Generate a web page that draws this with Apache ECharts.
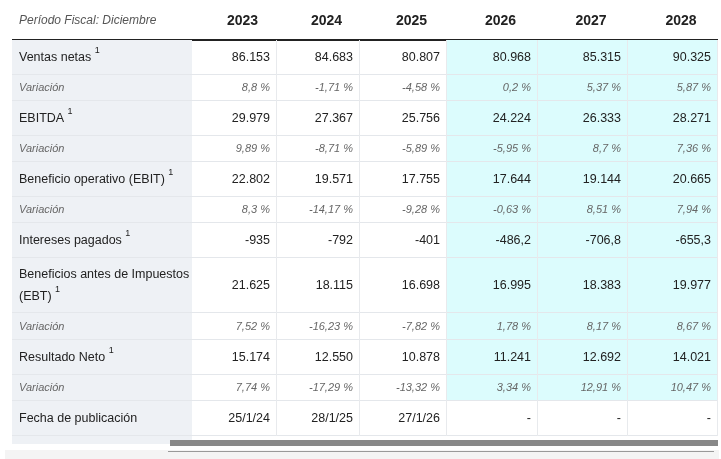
<!DOCTYPE html>
<html>
<head>
<meta charset="utf-8">
<title>Período Fiscal</title>
<script src="https://cdn.jsdelivr.net/npm/echarts@6/dist/echarts.min.js"></script>
</head>
<body style="margin:0;background:#fff">
<div id="container" style="width:721px;height:459px"></div>
<script>
// datos
var years = ['2023', '2024', '2025', '2026', '2027', '2028'];
var rowLabels = ['Ventas netas', 'Variación', 'EBITDA', 'Variación', 'Beneficio operativo (EBIT)', 'Variación',
  'Intereses pagados', 'Beneficios antes de Impuestos\n(EBT)', 'Variación', 'Resultado Neto', 'Variación', 'Fecha de publicación'];
var rowNote = [true, false, true, false, true, false, true, true, false, true, false, false];
var rowIsVar = [false, true, false, true, false, true, false, false, true, false, true, false];
var ventas = ['86.153', '84.683', '80.807', '80.968', '85.315', '90.325'];
var ventasVar = ['8,8 %', '-1,71 %', '-4,58 %', '0,2 %', '5,37 %', '5,87 %'];
var ebitda = ['29.979', '27.367', '25.756', '24.224', '26.333', '28.271'];
var ebitdaVar = ['9,89 %', '-8,71 %', '-5,89 %', '-5,95 %', '8,7 %', '7,36 %'];
var ebit = ['22.802', '19.571', '17.755', '17.644', '19.144', '20.665'];
var ebitVar = ['8,3 %', '-14,17 %', '-9,28 %', '-0,63 %', '8,51 %', '7,94 %'];
var intereses = ['-935', '-792', '-401', '-486,2', '-706,8', '-655,3'];
var ebt = ['21.625', '18.115', '16.698', '16.995', '18.383', '19.977'];
var ebtVar = ['7,52 %', '-16,23 %', '-7,82 %', '1,78 %', '8,17 %', '8,67 %'];
var neto = ['15.174', '12.550', '10.878', '11.241', '12.692', '14.021'];
var netoVar = ['7,74 %', '-17,29 %', '-13,32 %', '3,34 %', '12,91 %', '10,47 %'];
var fechas = ['25/1/24', '28/1/25', '27/1/26', '-', '-', '-'];
var rows = [ventas, ventasVar, ebitda, ebitdaVar, ebit, ebitVar, intereses, ebt, ebtVar, neto, netoVar, fechas];
var firstEstimate = 3; // 2026 en adelante: estimaciones
var lastShadedRow = 10; // la fila de fechas no se colorea

// maquetación (px)
var colEdges = [12, 192, 277, 360, 447, 538, 628, 718];
var rowEdges = [0, 40, 75, 101, 136, 162, 197, 223, 258, 313, 340, 375, 401, 436];
var FONT = 'Liberation Sans, Arial, sans-serif';

var cells = [];
for (var r = -1; r < rows.length; r++) {
  for (var c = -1; c < years.length; c++) cells.push([c, r]);
}

function renderCell(params, api) {
  var c = api.value(0), r = api.value(1);
  var p0 = api.coord([colEdges[c + 1], rowEdges[r + 1]]);
  var p1 = api.coord([colEdges[c + 2], rowEdges[r + 2]]);
  var w = p1[0] - p0[0], h = p1[1] - p0[1];
  var children = [];
  var bg = null;
  if (r >= 0 && c === -1) bg = '#eef1f5';
  if (r >= 0 && r <= lastShadedRow && c >= firstEstimate) bg = '#dcfcfd';
  if (bg) children.push({ type: 'rect', shape: { x: p0[0], y: p0[1], width: w, height: h }, style: { fill: bg } });
  if (r >= 0) {
    children.push({ type: 'line', shape: { x1: p0[0], y1: p1[1] - 0.5, x2: p1[0], y2: p1[1] - 0.5 }, style: { stroke: '#e4e7eb', lineWidth: 1 } });
    if (c >= 0) children.push({ type: 'line', shape: { x1: p1[0] - 0.5, y1: p0[1], x2: p1[0] - 0.5, y2: p1[1] }, style: { stroke: '#e8eaed', lineWidth: 1 } });
  }
  var text, style;
  if (r === -1) {
    if (c === -1) {
      text = 'Período Fiscal: Diciembre';
      style = { font: 'italic 12px ' + FONT, fill: '#555', align: 'left', x: p0[0] + 7, y: p0[1] + h / 2 + 1 };
    } else {
      text = years[c];
      style = { font: 'bold 14px ' + FONT, fill: '#222', align: 'center', x: p0[0] + w / 2 + 8, y: p0[1] + h / 2 + 1 };
    }
  } else if (c === -1) {
    var lbl = rowLabels[r];
    if (rowIsVar[r]) {
      style = { text: lbl, font: 'italic 11px ' + FONT, fill: '#666', align: 'left', x: p0[0] + 7, y: p0[1] + h / 2 };
    } else {
      style = {
        text: lbl + (rowNote[r] ? ' {s|1}' : ''), font: '12.5px ' + FONT, fill: '#222', align: 'left',
        x: p0[0] + 7, y: p0[1] + h / 2, lineHeight: 22,
        rich: { s: { fontSize: 9, verticalAlign: 'top', padding: [0, 0, 11, 0], fill: '#222' } }
      };
    }
  } else {
    var v = rows[r][c];
    style = rowIsVar[r]
      ? { text: v, font: 'italic 11px ' + FONT, fill: '#666', align: 'right', x: p1[0] - 7, y: p0[1] + h / 2 }
      : { text: v, font: '12.5px ' + FONT, fill: '#222', align: 'right', x: p1[0] - 7, y: p0[1] + h / 2 };
  }
  if (text) style.text = text;
  style.verticalAlign = 'middle';
  children.push({ type: 'text', style: style });
  return { type: 'group', children: children };
}

var myChart = echarts.init(document.getElementById('container'), null, { renderer: 'canvas' });
var option = {
  animation: false,
  grid: { left: 0, right: 0, top: 0, bottom: 0 },
  xAxis: { type: 'value', min: 0, max: 721, show: false },
  yAxis: { type: 'value', min: 0, max: 459, inverse: true, show: false },
  graphic: [
    { type: 'rect', shape: { x: 12, y: 436, width: 180, height: 8 }, style: { fill: '#eef1f5' } },
    { type: 'rect', shape: { x: 12, y: 39, width: 706, height: 2 }, style: { fill: '#222' } },
    { type: 'rect', shape: { x: 170, y: 440, width: 548, height: 6 }, style: { fill: '#888' } },
    { type: 'rect', shape: { x: 5, y: 450, width: 714, height: 9 }, style: { fill: '#f4f4f4' } },
    { type: 'rect', shape: { x: 168, y: 451, width: 546, height: 1 }, style: { fill: '#999' } }
  ],
  series: [{
    type: 'custom',
    renderItem: renderCell,
    data: cells,
    silent: true
  }]
};
myChart.setOption(option);
window.addEventListener('resize', myChart.resize);
</script>
</body>
</html>
